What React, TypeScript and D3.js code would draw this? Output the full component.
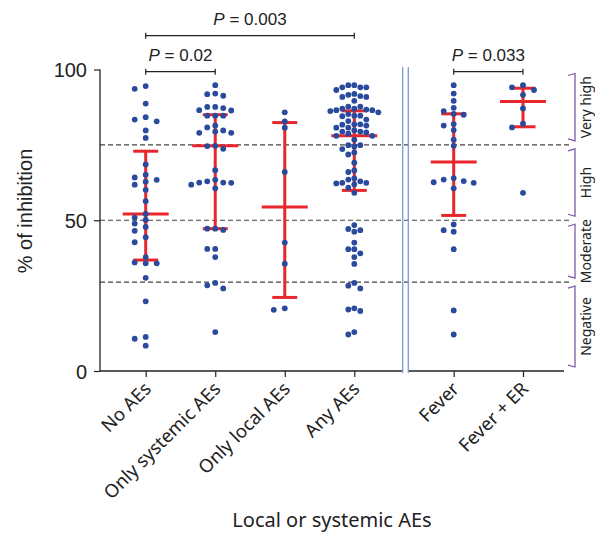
import React, { useRef, useEffect } from "react";
import * as d3 from "d3";

// groups shown on the x axis (left panel: AE type, right panel: fever)
const leftCats = ["No AEs", "Only systemic AEs", "Only local AEs", "Any AEs"];
const rightCats = ["Fever", "Fever + ER"];

// % of inhibition per participant
const noAEs = [94.5, 93.6, 88.7, 83.4, 84.2, 82.8, 79.8, 77.3, 68.5, 65.1, 63.4, 62.8, 64.2, 60.1, 61.8, 56.3,
  50.9, 52.1, 48.9, 50.1, 47.8, 46.5, 44.4, 42.7, 37.8, 36.0, 35.7, 35.7, 30.9, 23.1, 11.3, 10.7, 8.4];
const onlySystemic = [94.8, 91.8, 92.0, 91.3, 86.4, 87.6, 86.5, 87.2, 87.6, 84.7, 84.7, 84.7, 80.8, 81.4, 79.8,
  79.4, 79.0, 79.0, 74.7, 73.7, 74.6, 66.6, 63.4, 62.4, 62.9, 61.8, 62.5, 62.5, 60.6, 47.2, 46.8, 47.2, 40.5,
  40.5, 37.8, 28.4, 27.4, 29.2, 12.9];
const onlyLocal = [85.8, 82.8, 80.7, 66.0, 42.6, 35.6, 20.3, 20.8];
const anyAEs = [94.1, 94.8, 94.8, 94.1, 93.2, 94.1, 91.9, 91.6, 90.9, 90.9, 91.2, 89.6, 86.2, 87.0, 87.0, 86.7,
  86.5, 87.7, 87.7, 86.5, 85.2, 84.7, 84.7, 84.5, 85.8, 83.4, 82.9, 80.7, 80.7, 81.7, 81.8, 81.4, 81.8, 78.7,
  78.0, 79.8, 79.1, 79.4, 79.4, 78.0, 76.7, 74.9, 74.5, 74.9, 73.6, 72.5, 71.8, 69.1, 66.0, 66.5, 63.9, 63.5,
  62.4, 62.2, 62.9, 61.9, 62.4, 60.8, 59.1, 48.4, 46.2, 47.1, 46.7, 42.6, 40.4, 37.8, 39.0, 40.4, 35.5, 29.2,
  28.3, 27.4, 20.4, 20.8, 19.9, 12.1, 12.9];
const fever = [94.8, 92.0, 89.6, 86.2, 87.3, 85.0, 85.3, 81.4, 81.9, 79.9, 76.7, 74.7, 64.0, 63.0, 62.6, 62.4,
  63.5, 60.6, 48.6, 46.2, 46.7, 40.4, 20.1, 12.1];
const feverER = [93.2, 94.1, 94.8, 91.6, 87.1, 82.0, 80.8, 59.1];

const groupValues = [noAEs, onlySystemic, onlyLocal, anyAEs, fever, feverER];
const medians = [52.1, 74.7, 54.4, 78.0, 69.3, 89.4];
const upperQ = [72.9, 85.0, 82.4, 86.3, 85.3, 93.8];
const lowerQ = [36.8, 47.2, 24.4, 59.9, 51.6, 81.0];

const cutoffs = [75, 50, 29.5];
const levelNames = ["Very high", "High", "Moderate", "Negative"];
const levelBounds = [[75, 100], [50, 75], [29.5, 50], [0, 29.5]];
const yTicks = [0, 50, 100];
const pTests = [
  { a: "No AEs", b: "Only systemic AEs", p: "0.02" },
  { a: "No AEs", b: "Any AEs", p: "0.003" },
  { a: "Fever", b: "Fever + ER", p: "0.033" },
];

const W = 595, H = 533;
const BLUE = "#2a4a9e", RED = "#e8262b", PURPLE = "#7b5ba6";
const ARIAL = "'Liberation Sans', Arial, sans-serif";
const SANS = "'Noto Sans', sans-serif";

const y = d3.scaleLinear().domain([0, 100]).range([371, 69.5]);
const xLeft = d3.scalePoint().domain(leftCats).range([145.7, 354.3]);
const xRight = d3.scalePoint().domain(rightCats).range([453.7, 523]);
const allCats = [...leftCats, ...rightCats];
const xOf = (c: string) => (leftCats.includes(c) ? xLeft(c) : xRight(c)) as number;

// horizontal spacing of the scatter columns, per group
const swarmStep = [11, 8, 11, 6, 10, 11];
const R = 2.9;

function swarm(values: number[], cx: number, step: number) {
  const placed: { x: number; y: number }[] = [];
  [...values].sort((a, b) => b - a).forEach(v => {
    const py = y(v);
    for (let k = 0; k < 60; k++) {
      const n = Math.ceil(k / 2);
      const px = cx + (k === 0 ? 0 : k % 2 ? -n * step : n * step);
      if (placed.every(p => (p.x - px) ** 2 + (p.y - py) ** 2 >= (2 * R) ** 2)) {
        placed.push({ x: px, y: py });
        break;
      }
    }
  });
  return placed;
}

export default function App() {
  const yAxisRef = useRef<SVGGElement>(null),
        xLeftRef = useRef<SVGGElement>(null),
        xRightRef = useRef<SVGGElement>(null);

  useEffect(() => {
    const ya = d3.select(yAxisRef.current!)
      .call(d3.axisLeft(y).tickValues(yTicks).tickSize(6).tickPadding(7).tickSizeOuter(0));
    ya.select(".domain").remove();
    ya.attr("font-family", ARIAL).attr("font-size", 20);
    ya.selectAll("line").attr("stroke", "#222").attr("stroke-width", 1.2);
    ya.selectAll("text").attr("fill", "#222").attr("dy", "0.35em");

    [[xLeftRef, xLeft], [xRightRef, xRight]].forEach(([ref, sc]: any) => {
      const g = d3.select(ref.current).call(d3.axisBottom(sc).tickSize(6).tickSizeOuter(0));
      g.select(".domain").remove();
      g.attr("font-family", SANS).attr("font-size", 18.5);
      g.selectAll("line").attr("stroke", "#222").attr("stroke-width", 1.2);
      g.selectAll("text")
        .attr("fill", "#222")
        .attr("x", 0).attr("y", 0).attr("dy", 0)
        .attr("text-anchor", "end")
        .attr("transform", "translate(6,19) rotate(-45)");
    });
  }, []);

  return (
    <svg width={W} height={H} style={{ position: "absolute", left: 0, top: 0, background: "#fff" }}>
      {/* cut-off lines */}
      {cutoffs.map(c => (
        <line key={c} x1={100} x2={569} y1={y(c)} y2={y(c)} stroke="#444" strokeWidth={1.2} strokeDasharray="5,3" />
      ))}

      {/* axes */}
      <line x1={100} x2={100} y1={y(100)} y2={y(0)} stroke="#222" strokeWidth={1.3} />
      <line x1={100} x2={402.7} y1={y(0)} y2={y(0)} stroke="#222" strokeWidth={1.3} />
      <line x1={408.3} x2={564} y1={y(0)} y2={y(0)} stroke="#222" strokeWidth={1.3} />
      <g ref={yAxisRef} transform="translate(100,0)" />
      <g ref={xLeftRef} transform={`translate(0,${y(0)})`} />
      <g ref={xRightRef} transform={`translate(0,${y(0)})`} />

      {/* panel break */}
      {[402.7, 408.3].map(bx => (
        <line key={bx} x1={bx} x2={bx} y1={67} y2={373} stroke="#7d9bd3" strokeWidth={1.3} />
      ))}

      <text transform={`translate(32,211) rotate(-90)`} textAnchor="middle" fontFamily={ARIAL} fontSize={20} fill="#222">
        % of inhibition
      </text>
      <text x={332} y={527} textAnchor="middle" fontFamily={SANS} fontSize={20} fill="#222">
        Local or systemic AEs
      </text>

      {/* median and IQR */}
      {allCats.map((c, i) => {
        const cx = xOf(c);
        return (
          <g key={c} stroke={RED} strokeWidth={3}>
            <line x1={cx} x2={cx} y1={y(lowerQ[i])} y2={y(upperQ[i])} />
            <line x1={cx - 23} x2={cx + 23} y1={y(medians[i])} y2={y(medians[i])} />
            <line x1={cx - 12.5} x2={cx + 12.5} y1={y(upperQ[i])} y2={y(upperQ[i])} />
            <line x1={cx - 12.5} x2={cx + 12.5} y1={y(lowerQ[i])} y2={y(lowerQ[i])} />
          </g>
        );
      })}

      {/* individual points */}
      {allCats.map((c, i) =>
        swarm(groupValues[i], xOf(c), swarmStep[i]).map((p, j) => (
          <circle key={`${c}-${j}`} cx={p.x} cy={p.y} r={R} fill={BLUE} />
        ))
      )}

      {/* significance brackets */}
      {pTests.map(t => {
        const x1 = xOf(t.a), x2 = xOf(t.b);
        const span = allCats.indexOf(t.b) - allCats.indexOf(t.a);
        const by = span > 1 ? 35.7 : 71.7;
        return (
          <g key={t.p}>
            <line x1={x1} x2={x2} y1={by} y2={by} stroke="#222" strokeWidth={1.2} />
            <line x1={x1} x2={x1} y1={by - 3} y2={by + 3} stroke="#222" strokeWidth={1.2} />
            <line x1={x2} x2={x2} y1={by - 3} y2={by + 3} stroke="#222" strokeWidth={1.2} />
            <text x={(x1 + x2) / 2} y={by - 10.5} textAnchor="middle" fontFamily={ARIAL} fontSize={17} fill="#222">
              <tspan fontStyle="italic">P</tspan> = {t.p}
            </text>
          </g>
        );
      })}

      {/* level brackets */}
      {levelNames.map((name, i) => {
        const top = y(levelBounds[i][1]) + 4, bot = y(levelBounds[i][0]) - 4;
        return (
          <g key={name}>
            <path d={`M568,${top + 2}L575,${top}V${bot}L568,${bot - 2}`} fill="none" stroke={PURPLE} strokeWidth={1.3} />
            <text transform={`translate(590.5,${(top + bot) / 2}) rotate(-90)`} textAnchor="middle" fontFamily={SANS} fontSize={14} fill="#222">
              {name}
            </text>
          </g>
        );
      })}
    </svg>
  );
}
